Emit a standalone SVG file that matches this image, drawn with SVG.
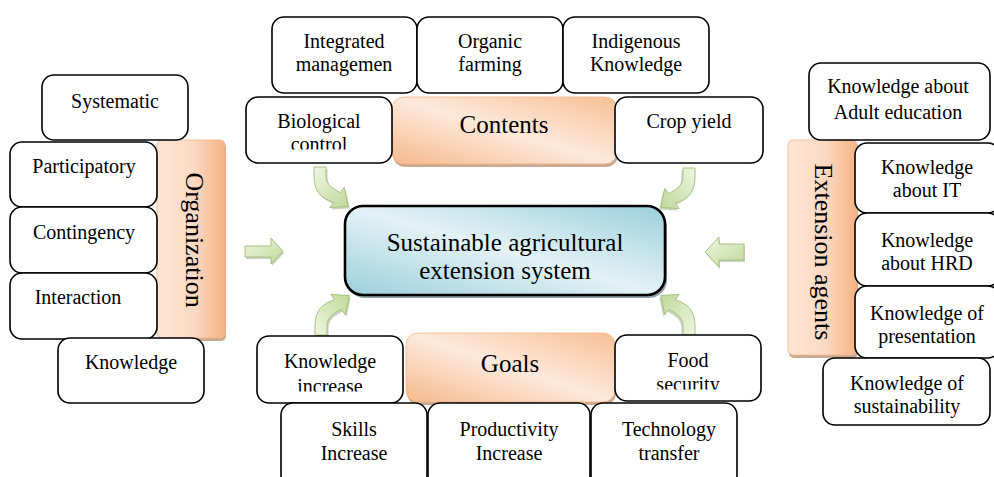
<svg xmlns="http://www.w3.org/2000/svg" width="994" height="477" viewBox="0 0 994 477">
  <defs>
    <style>
      .box { fill: #ffffff; stroke: #000000; stroke-width: 1.6; }
      .t { font-family: "Liberation Serif", "Times New Roman", serif; font-size: 20px; text-anchor: middle; fill: #000000; }
      .head { font-size: 25px; }
      .core { font-size: 25px; }
      .side { font-size: 26px; }
      .peachH { fill: url(#peachH); stroke: #f2b48a; stroke-width: 0.8; }
      .peachD { fill: url(#peachD); stroke: #f2b48a; stroke-width: 0.8; }
      .pshadow { fill: #c9a98f; }
      .arrow { fill: url(#green); stroke: #a6c27f; stroke-width: 1; }
      .ashadow { fill: #9fae8c; opacity: 0.55; }
    </style>
    <linearGradient id="peachH" x1="0" y1="0" x2="1" y2="0">
      <stop offset="0" stop-color="#fde6d6"/>
      <stop offset="0.55" stop-color="#fbd9c2"/>
      <stop offset="1" stop-color="#f5b283"/>
    </linearGradient>
    <linearGradient id="peachD" x1="0" y1="1" x2="1" y2="0">
      <stop offset="0" stop-color="#f6b98b"/>
      <stop offset="0.5" stop-color="#fde9dc"/>
      <stop offset="1" stop-color="#f7bf94"/>
    </linearGradient>
    <linearGradient id="blue" x1="0" y1="1" x2="1" y2="0">
      <stop offset="0" stop-color="#9ccfdc"/>
      <stop offset="0.5" stop-color="#e3f2f6"/>
      <stop offset="1" stop-color="#9ccfdc"/>
    </linearGradient>
    <linearGradient id="green" x1="0" y1="0" x2="1" y2="1">
      <stop offset="0" stop-color="#eef5e2"/>
      <stop offset="1" stop-color="#c0d99a"/>
    </linearGradient>
    <!-- hook arrow: drops down, then turns toward the lower right -->
    <path id="hook" d="M0,0 L12,0 L12,8 C12,18 18,21 26.3,25.6 L30.2,20.4 L34.2,39.4 L15.8,40.6 L19.7,35.4 C8,31 0,26 0,8 Z"/>
    <clipPath id="clipBio"><rect x="246" y="97" width="146" height="52.5"/></clipPath>
    <clipPath id="clipKinc"><rect x="257" y="336" width="146" height="55.5"/></clipPath>
    <clipPath id="clipFood"><rect x="615" y="335" width="146" height="54.5"/></clipPath>
  </defs>

  <rect x="0" y="0" width="994" height="477" fill="#ffffff"/>

  <!-- connectors -->
  <g id="connectors">
    <g transform="translate(314,167)">
      <use href="#hook" class="ashadow" transform="translate(1.5,2)"/>
      <use href="#hook" class="arrow"/>
    </g>
    <g transform="translate(695,168) scale(-1,1)">
      <use href="#hook" class="ashadow" transform="translate(1.5,2)"/>
      <use href="#hook" class="arrow"/>
    </g>
    <g transform="translate(315,335) scale(1,-1)">
      <use href="#hook" class="ashadow" transform="translate(1.5,-2)"/>
      <use href="#hook" class="arrow"/>
    </g>
    <g transform="translate(695,335) scale(-1,-1)">
      <use href="#hook" class="ashadow" transform="translate(1.5,-2)"/>
      <use href="#hook" class="arrow"/>
    </g>
    <path class="ashadow" d="M246,248 L272,248 L272,240 L284,253 L272,266 L272,259 L246,259 Z"/>
    <path class="arrow" d="M245,246 L271,246 L271,238 L283,251 L271,264 L271,257 L245,257 Z"/>
    <path class="ashadow" d="M745,246 L720,246 L720,239 L706,254 L720,269 L720,262 L745,262 Z"/>
    <path class="arrow" d="M744,244 L719,244 L719,237 L705,252 L719,267 L719,260 L744,260 Z"/>
  </g>

  <!-- centre -->
  <g id="core">
    <rect x="347" y="209" width="320" height="89" rx="18" fill="#8fa3aa"/>
    <rect x="345" y="206" width="320" height="89" rx="18" fill="url(#blue)" stroke="#000" stroke-width="2.6"/>
    <text class="t core" x="505" y="251">Sustainable agricultural</text>
    <text class="t core" x="505" y="279">extension system</text>
  </g>

  <!-- organization column -->
  <g id="organization">
    <rect class="pshadow" x="158" y="142" width="68" height="199" rx="5"/>
    <rect class="peachH" x="157" y="140" width="68" height="198" rx="5"/>
    <text class="t side" transform="translate(186,240) rotate(90)">Organization</text>
  </g>
  <g id="systematic">
    <rect class="box" x="42" y="75" width="146" height="65" rx="12"/>
    <text class="t" x="115" y="108">Systematic</text>
  </g>
  <g id="participatory">
    <rect class="box" x="10" y="142" width="147" height="65" rx="12"/>
    <text class="t" x="84" y="173">Participatory</text>
  </g>
  <g id="contingency">
    <rect class="box" x="10" y="207" width="147" height="66" rx="12"/>
    <text class="t" x="84" y="239">Contingency</text>
  </g>
  <g id="interaction">
    <rect class="box" x="10" y="273" width="147" height="66" rx="12"/>
    <text class="t" x="78" y="304">Interaction</text>
  </g>
  <g id="knowledge">
    <rect class="box" x="58" y="338" width="146" height="65" rx="12"/>
    <text class="t" x="131" y="369">Knowledge</text>
  </g>

  <!-- contents row -->
  <g id="contents">
    <rect class="pshadow" x="393" y="100" width="225" height="67" rx="12"/>
    <rect class="peachD" x="392" y="97" width="225" height="67" rx="12"/>
    <text class="t head" x="504" y="133">Contents</text>
  </g>
  <g id="integrated">
    <rect class="box" x="272" y="17" width="145" height="76" rx="12"/>
    <text class="t" x="344" y="48">Integrated</text>
    <text class="t" x="344" y="71">managemen</text>
  </g>
  <g id="organic">
    <rect class="box" x="417" y="17" width="146" height="76" rx="12"/>
    <text class="t" x="490" y="48">Organic</text>
    <text class="t" x="490" y="71">farming</text>
  </g>
  <g id="indigenous">
    <rect class="box" x="563" y="17" width="146" height="76" rx="12"/>
    <text class="t" x="636" y="48">Indigenous</text>
    <text class="t" x="636" y="71">Knowledge</text>
  </g>
  <g id="biological">
    <rect class="box" x="246" y="97" width="146" height="66" rx="12"/>
    <g clip-path="url(#clipBio)">
      <text class="t" x="319" y="128">Biological</text>
      <text class="t" x="319" y="151">control</text>
    </g>
  </g>
  <g id="crop-yield">
    <rect class="box" x="615" y="97" width="148" height="66" rx="12"/>
    <text class="t" x="689" y="128">Crop yield</text>
  </g>

  <!-- goals row -->
  <g id="goals">
    <rect class="pshadow" x="407" y="336" width="209" height="69" rx="12"/>
    <rect class="peachD" x="406" y="333" width="209" height="69" rx="12"/>
    <text class="t head" x="510" y="372">Goals</text>
  </g>
  <g id="knowledge-increase">
    <rect class="box" x="257" y="336" width="146" height="67" rx="12"/>
    <g clip-path="url(#clipKinc)">
      <text class="t" x="330" y="368">Knowledge</text>
      <text class="t" x="330" y="393">increase</text>
    </g>
  </g>
  <g id="food-security">
    <rect class="box" x="615" y="335" width="146" height="66" rx="12"/>
    <g clip-path="url(#clipFood)">
      <text class="t" x="688" y="367">Food</text>
      <text class="t" x="688" y="391">security</text>
    </g>
  </g>
  <g id="skills">
    <rect class="box" x="281" y="403" width="146" height="84" rx="12"/>
    <text class="t" x="354" y="436">Skills</text>
    <text class="t" x="354" y="460">Increase</text>
  </g>
  <g id="productivity">
    <rect class="box" x="428" y="403" width="162" height="84" rx="12"/>
    <text class="t" x="509" y="436">Productivity</text>
    <text class="t" x="509" y="460">Increase</text>
  </g>
  <g id="technology">
    <rect class="box" x="591" y="403" width="146" height="84" rx="12"/>
    <text class="t" x="669" y="436">Technology</text>
    <text class="t" x="669" y="460">transfer</text>
  </g>

  <!-- extension agents column -->
  <g id="extension-agents">
    <rect class="pshadow" x="789" y="142" width="69" height="216" rx="5"/>
    <rect class="peachH" x="788" y="140" width="69" height="215" rx="5"/>
    <text class="t side" transform="translate(815,252) rotate(90)">Extension agents</text>
  </g>
  <g id="adult-education">
    <rect class="box" x="809" y="63" width="181" height="77" rx="12"/>
    <text class="t" x="898" y="93">Knowledge about</text>
    <text class="t" x="898" y="119">Adult education</text>
  </g>
  <g id="it">
    <rect class="box" x="855" y="143" width="145" height="70" rx="12"/>
    <text class="t" x="927" y="174">Knowledge</text>
    <text class="t" x="927" y="197">about IT</text>
  </g>
  <g id="hrd">
    <rect class="box" x="855" y="213" width="145" height="73" rx="12"/>
    <text class="t" x="927" y="247">Knowledge</text>
    <text class="t" x="927" y="270">about HRD</text>
  </g>
  <g id="presentation">
    <rect class="box" x="855" y="286" width="145" height="72" rx="12"/>
    <text class="t" x="927" y="320">Knowledge of</text>
    <text class="t" x="927" y="343">presentation</text>
  </g>
  <g id="sustainability">
    <rect class="box" x="823" y="358" width="167" height="67" rx="12"/>
    <text class="t" x="907" y="390">Knowledge of</text>
    <text class="t" x="907" y="413">sustainability</text>
  </g>
</svg>
